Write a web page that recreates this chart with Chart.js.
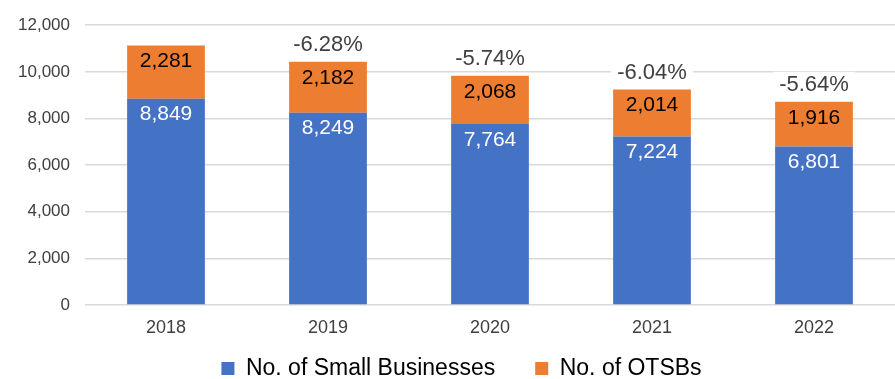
<!DOCTYPE html>
<html>
<head>
<meta charset="utf-8">
<script src="https://cdn.jsdelivr.net/npm/chart.js@4/dist/chart.umd.min.js"></script>
<style>
html,body{margin:0;padding:0;background:#fff;}
#wrap{width:895px;height:379px;}
</style>
</head>
<body>
<div id="wrap"><canvas id="c" width="895" height="379"></canvas></div>
<script>
const years = ['2018', '2019', '2020', '2021', '2022'];
const smallBusinesses = [8849, 8249, 7764, 7224, 6801];
const otsbs = [2281, 2182, 2068, 2014, 1916];
const changeLabels = ['', '-6.28%', '-5.74%', '-6.04%', '-5.64%'];
const yTicks = [0, 2000, 4000, 6000, 8000, 10000, 12000];

const FONT = "'Liberation Sans', Arial, sans-serif";

const labelPlugin = {
  id: 'labels',
  beforeUpdate(chart) {
    const lg = chart.legend;
    if (lg && !lg._patched) {
      lg._patched = true;
      const origFit = lg.fit.bind(lg);
      lg.fit = function () { origFit(); this.height = 34; };
      const origDraw = lg.draw.bind(lg);
      lg.draw = function () {
        const t = this.top, l = this.left, r = this.right;
        this.top = t - 28;
        this.left = l + 14;
        this.right = r + 14;
        origDraw();
        this.top = t; this.left = l; this.right = r;
      };
    }
  },
  afterDatasetsDraw(chart) {
    const ctx = chart.ctx;
    ctx.save();
    ctx.textAlign = 'center';
    ctx.textBaseline = 'middle';
    chart.data.datasets.forEach((ds, di) => {
      const meta = chart.getDatasetMeta(di);
      meta.data.forEach((bar, i) => {
        ctx.font = '21px ' + FONT;
        ctx.fillStyle = di === 0 ? '#ffffff' : '#000000';
        ctx.fillText(ds.data[i].toLocaleString('en-US'), bar.x, bar.y + 16);
      });
    });
    const topMeta = chart.getDatasetMeta(1);
    topMeta.data.forEach((bar, i) => {
      const t = changeLabels[i];
      if (!t) return;
      ctx.font = '22px ' + FONT;
      const w = ctx.measureText(t).width;
      const cy = bar.y - 18;
      ctx.fillStyle = '#ffffff';
      ctx.fillRect(bar.x - w / 2 - 6, cy - 12, w + 12, 24);
      ctx.fillStyle = '#404040';
      ctx.fillText(t, bar.x, cy + 1);
    });
    ctx.restore();
  }
};

new Chart(document.getElementById('c'), {
  type: 'bar',
  data: {
    labels: years,
    datasets: [
      { label: 'No. of Small Businesses', data: smallBusinesses, backgroundColor: '#4472C4', categoryPercentage: 1.0, barPercentage: 0.48 },
      { label: 'No. of OTSBs', data: otsbs, backgroundColor: '#ED7D31', categoryPercentage: 1.0, barPercentage: 0.48 }
    ]
  },
  options: {
    responsive: false,
    animation: false,
    devicePixelRatio: 1,
    layout: { padding: { top: 17, right: 0, left: 0, bottom: 0 } },
    plugins: {
      tooltip: { enabled: false },
      legend: {
        position: 'bottom',
        labels: {
          font: { size: 23, family: FONT },
          color: '#000000',
          boxWidth: 13,
          boxHeight: 13,
          padding: 40,
          useBorderRadius: false
        }
      }
    },
    scales: {
      x: {
        stacked: true,
        afterFit(scale) { scale.height = 40; },
        grid: { display: false, drawTicks: false },
        border: { display: false },
        ticks: { font: { size: 18, family: FONT }, color: '#404040', padding: 12 }
      },
      y: {
        stacked: true,
        min: 0,
        max: 12000,
        afterFit(scale) { scale.width = 85; },
        afterBuildTicks(scale) { scale.ticks = yTicks.map(v => ({ value: v })); },
        grid: { color: '#d9d9d9', lineWidth: 1.5, drawTicks: false },
        border: { display: false },
        ticks: {
          font: { size: 17, family: FONT },
          color: '#404040',
          padding: 15,
          callback: v => v.toLocaleString('en-US')
        }
      }
    }
  },
  plugins: [labelPlugin]
});
</script>
</body>
</html>
